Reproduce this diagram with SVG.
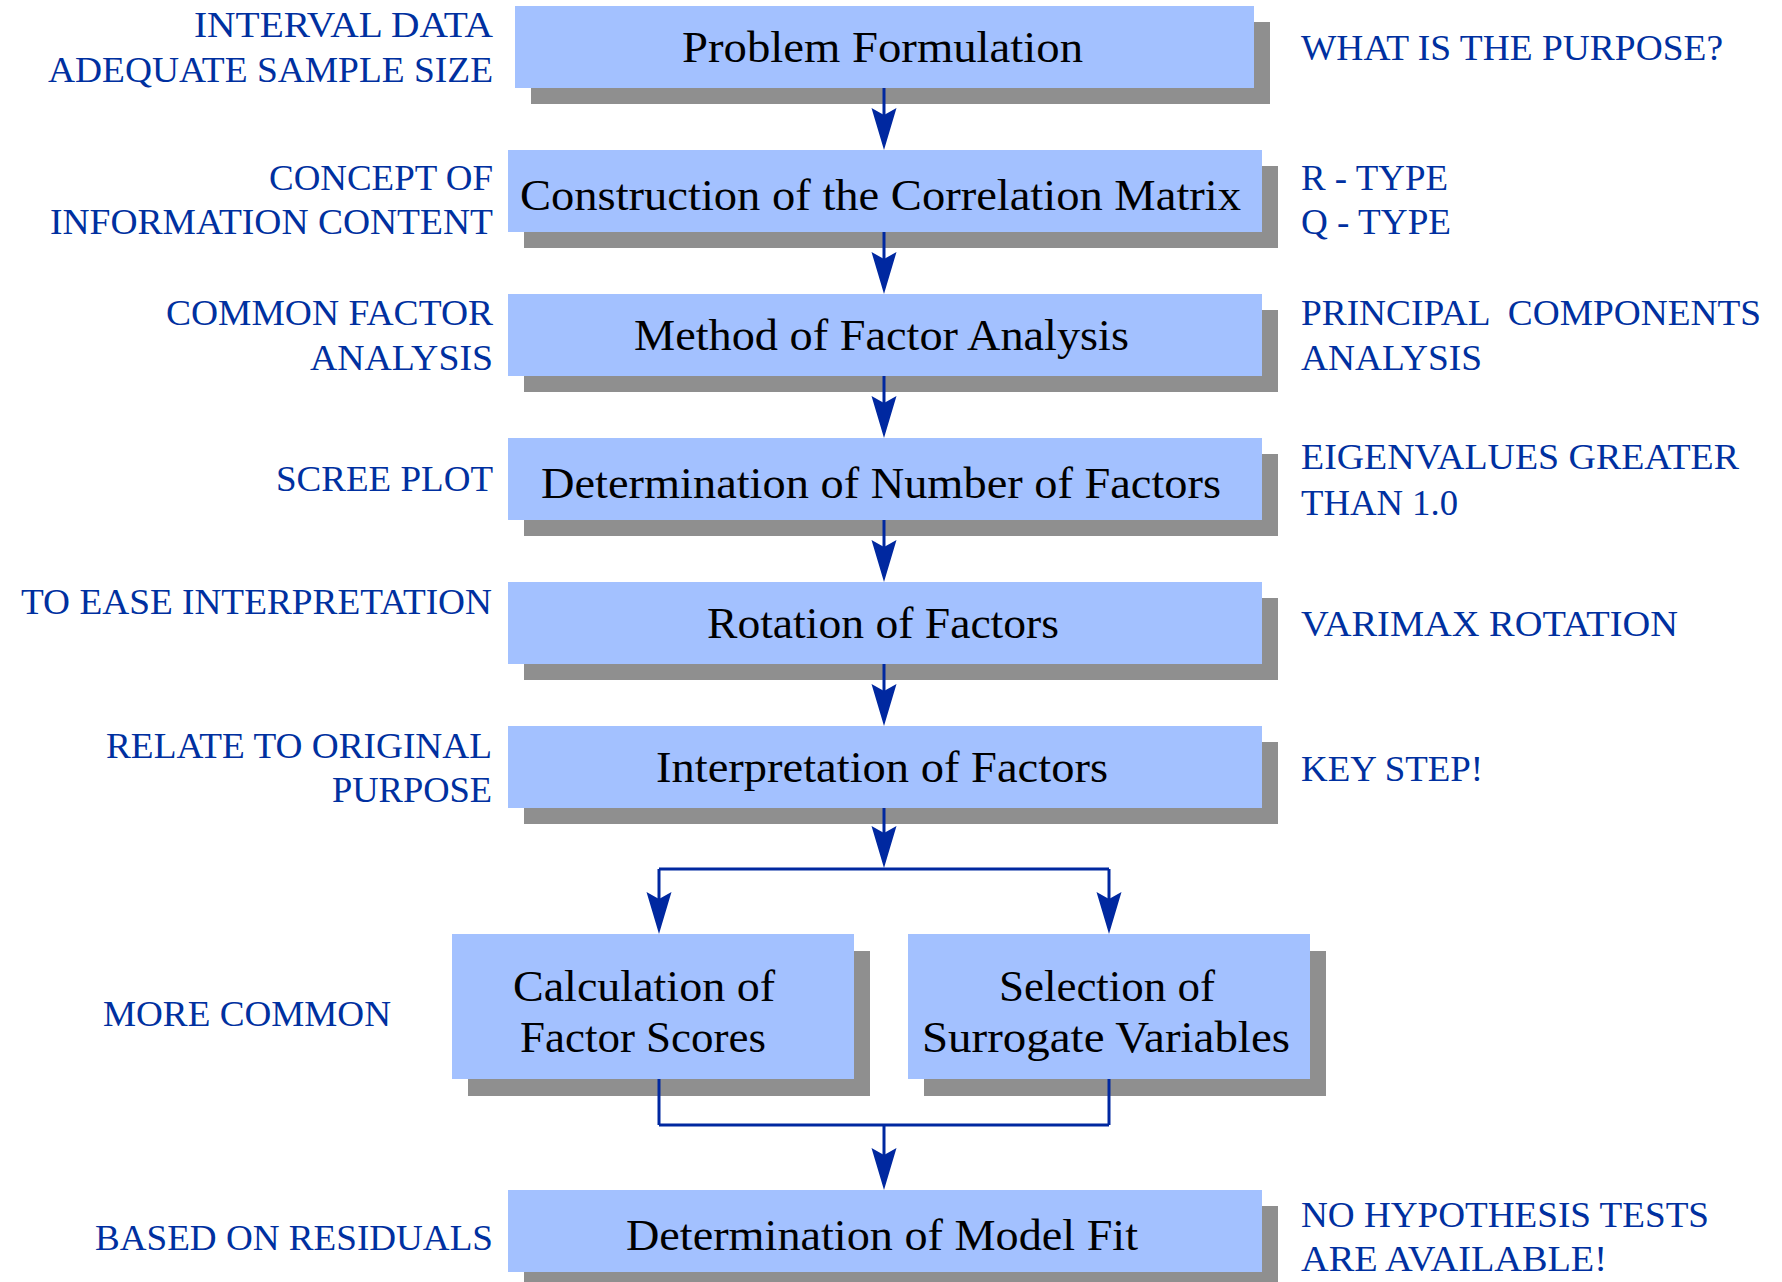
<svg xmlns="http://www.w3.org/2000/svg" width="1782" height="1282" viewBox="0 0 1782 1282">
  <style>
    .box { fill: #A3C1FF; }
    .shadow { fill: #8F8F8F; }
    .step { font-size: 44px; fill: #000; text-anchor: middle; }
    .note { font-size: 36px; fill: #0030A0; }
    .left { text-anchor: end; }
    .link { fill: none; stroke: #0028A0; stroke-width: 3; }
  </style>
  <defs>
    <marker id="head" markerUnits="userSpaceOnUse" viewBox="-44 -14 46 28" markerWidth="46" markerHeight="28" refX="-35" refY="0" orient="auto">
      <path d="M0,0 L-42,-12.5 L-35,0 L-42,12.5 Z" fill="#0028A0"/>
    </marker>
  </defs>
  <rect width="1782" height="1282" fill="#fff"/>

  <g font-family="Liberation Serif, Times New Roman, DejaVu Serif, serif">
  <!-- process steps -->
  <g id="problem">
    <rect class="shadow" x="531" y="22" width="739" height="82"/>
    <rect class="box" x="515" y="6" width="739" height="82"/>
    <text class="step" x="882.5" y="62" textLength="401" lengthAdjust="spacingAndGlyphs">Problem Formulation</text>
  </g>
  <g id="construction">
    <rect class="shadow" x="524" y="166" width="754" height="82"/>
    <rect class="box" x="508" y="150" width="754" height="82"/>
    <text class="step" x="880.5" y="210" textLength="721" lengthAdjust="spacingAndGlyphs">Construction of the Correlation Matrix</text>
  </g>
  <g id="method">
    <rect class="shadow" x="524" y="310" width="754" height="82"/>
    <rect class="box" x="508" y="294" width="754" height="82"/>
    <text class="step" x="881.5" y="350" textLength="495" lengthAdjust="spacingAndGlyphs">Method of Factor Analysis</text>
  </g>
  <g id="number">
    <rect class="shadow" x="524" y="454" width="754" height="82"/>
    <rect class="box" x="508" y="438" width="754" height="82"/>
    <text class="step" x="881" y="498" textLength="680" lengthAdjust="spacingAndGlyphs">Determination of Number of Factors</text>
  </g>
  <g id="rotation">
    <rect class="shadow" x="524" y="598" width="754" height="82"/>
    <rect class="box" x="508" y="582" width="754" height="82"/>
    <text class="step" x="883" y="638" textLength="352" lengthAdjust="spacingAndGlyphs">Rotation of Factors</text>
  </g>
  <g id="interpretation">
    <rect class="shadow" x="524" y="742" width="754" height="82"/>
    <rect class="box" x="508" y="726" width="754" height="82"/>
    <text class="step" x="882" y="782" textLength="452" lengthAdjust="spacingAndGlyphs">Interpretation of Factors</text>
  </g>
  <g id="scores">
    <rect class="shadow" x="468" y="951" width="402" height="145"/>
    <rect class="box" x="452" y="934" width="402" height="145"/>
    <text class="step" x="644" y="1001" textLength="262" lengthAdjust="spacingAndGlyphs">Calculation of</text>
    <text class="step" x="643" y="1052" textLength="246" lengthAdjust="spacingAndGlyphs">Factor Scores</text>
  </g>
  <g id="surrogates">
    <rect class="shadow" x="924" y="951" width="402" height="145"/>
    <rect class="box" x="908" y="934" width="402" height="145"/>
    <text class="step" x="1107" y="1001" textLength="216" lengthAdjust="spacingAndGlyphs">Selection of</text>
    <text class="step" x="1106" y="1052" textLength="368" lengthAdjust="spacingAndGlyphs">Surrogate Variables</text>
  </g>
  <g id="fit">
    <rect class="shadow" x="524" y="1206" width="754" height="82"/>
    <rect class="box" x="508" y="1190" width="754" height="82"/>
    <text class="step" x="882" y="1250" textLength="512" lengthAdjust="spacingAndGlyphs">Determination of Model Fit</text>
  </g>

  <!-- connectors -->
  <g id="connectors">
    <line class="link" x1="884" y1="88" x2="884" y2="115" marker-end="url(#head)"/>
    <line class="link" x1="884" y1="232" x2="884" y2="259" marker-end="url(#head)"/>
    <line class="link" x1="884" y1="376" x2="884" y2="403" marker-end="url(#head)"/>
    <line class="link" x1="884" y1="520" x2="884" y2="547" marker-end="url(#head)"/>
    <line class="link" x1="884" y1="664" x2="884" y2="691" marker-end="url(#head)"/>
    <line class="link" x1="884" y1="808" x2="884" y2="833" marker-end="url(#head)"/>
    <line class="link" x1="659" y1="869" x2="1109" y2="869" stroke-width="4"/>
    <line class="link" x1="659" y1="869" x2="659" y2="899" marker-end="url(#head)"/>
    <line class="link" x1="1109" y1="869" x2="1109" y2="899" marker-end="url(#head)"/>
    <line class="link" x1="659" y1="1079" x2="659" y2="1125"/>
    <line class="link" x1="1109" y1="1079" x2="1109" y2="1125"/>
    <line class="link" x1="659" y1="1125" x2="1109" y2="1125" stroke-width="4"/>
    <line class="link" x1="884" y1="1125" x2="884" y2="1155" marker-end="url(#head)"/>
  </g>

  <!-- notes on the left -->
  <g id="notes-left">
    <text class="note left" x="493" y="37" textLength="299" lengthAdjust="spacingAndGlyphs">INTERVAL DATA</text>
    <text class="note left" x="493" y="82" textLength="445" lengthAdjust="spacingAndGlyphs">ADEQUATE SAMPLE SIZE</text>
    <text class="note left" x="493" y="190" textLength="224" lengthAdjust="spacingAndGlyphs">CONCEPT OF</text>
    <text class="note left" x="493" y="234" textLength="443" lengthAdjust="spacingAndGlyphs">INFORMATION CONTENT</text>
    <text class="note left" x="493" y="325" textLength="327" lengthAdjust="spacingAndGlyphs">COMMON FACTOR</text>
    <text class="note left" x="493" y="370" textLength="183" lengthAdjust="spacingAndGlyphs">ANALYSIS</text>
    <text class="note left" x="493" y="491" textLength="217" lengthAdjust="spacingAndGlyphs">SCREE PLOT</text>
    <text class="note left" x="492" y="614" textLength="471" lengthAdjust="spacingAndGlyphs">TO EASE INTERPRETATION</text>
    <text class="note left" x="492" y="758" textLength="386" lengthAdjust="spacingAndGlyphs">RELATE TO ORIGINAL</text>
    <text class="note left" x="492" y="802" textLength="160" lengthAdjust="spacingAndGlyphs">PURPOSE</text>
    <text class="note" x="103" y="1026" textLength="288" lengthAdjust="spacingAndGlyphs">MORE COMMON</text>
    <text class="note left" x="493" y="1250" textLength="398" lengthAdjust="spacingAndGlyphs">BASED ON RESIDUALS</text>
  </g>

  <!-- notes on the right -->
  <g id="notes-right">
    <text class="note" x="1301" y="60" textLength="422" lengthAdjust="spacingAndGlyphs">WHAT IS THE PURPOSE?</text>
    <text class="note" x="1301" y="190" textLength="147" lengthAdjust="spacingAndGlyphs">R - TYPE</text>
    <text class="note" x="1301" y="234" textLength="150" lengthAdjust="spacingAndGlyphs">Q - TYPE</text>
    <text class="note" x="1301" y="325" textLength="460" lengthAdjust="spacingAndGlyphs" xml:space="preserve">PRINCIPAL  COMPONENTS</text>
    <text class="note" x="1301" y="370" textLength="181" lengthAdjust="spacingAndGlyphs">ANALYSIS</text>
    <text class="note" x="1301" y="469" textLength="438" lengthAdjust="spacingAndGlyphs">EIGENVALUES GREATER</text>
    <text class="note" x="1301" y="515" textLength="157" lengthAdjust="spacingAndGlyphs">THAN 1.0</text>
    <text class="note" x="1301" y="636" textLength="377" lengthAdjust="spacingAndGlyphs">VARIMAX ROTATION</text>
    <text class="note" x="1301" y="781" textLength="182" lengthAdjust="spacingAndGlyphs">KEY STEP!</text>
    <text class="note" x="1301" y="1227" textLength="408" lengthAdjust="spacingAndGlyphs">NO HYPOTHESIS TESTS</text>
    <text class="note" x="1301" y="1271" textLength="306" lengthAdjust="spacingAndGlyphs">ARE AVAILABLE!</text>
  </g>
  </g>
</svg>
